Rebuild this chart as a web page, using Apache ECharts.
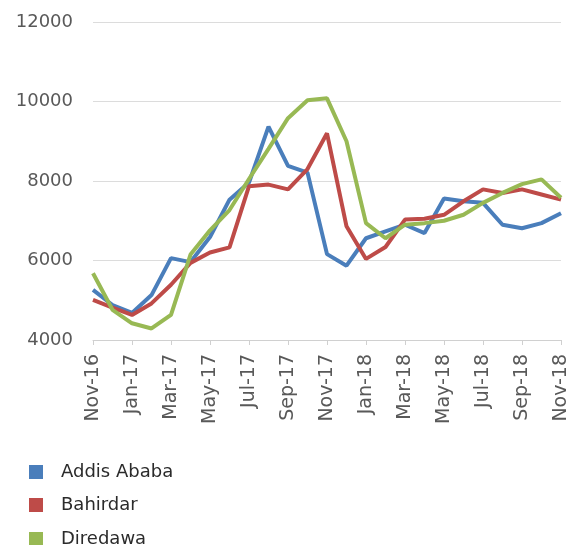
<!DOCTYPE html>
<html><head><meta charset="utf-8">
<script src="https://cdn.jsdelivr.net/npm/echarts@6/dist/echarts.min.js"></script>
<style>html,body{margin:0;padding:0;background:#fff}#c{width:579px;height:545px}</style>
</head><body><div id="c"></div>
<script>
var categories = ["Nov-16","Dec-16","Jan-17","Feb-17","Mar-17","Apr-17","May-17","Jun-17","Jul-17","Aug-17","Sep-17","Oct-17","Nov-17","Dec-17","Jan-18","Feb-18","Mar-18","Apr-18","May-18","Jun-18","Jul-18","Aug-18","Sep-18","Oct-18","Nov-18"];
var addisAbaba = [5260,4880,4680,5130,6060,5960,6590,7530,7960,9370,8380,8210,6160,5870,6560,6730,6900,6690,7560,7490,7450,6900,6810,6940,7190];
var bahirdar   = [5010,4815,4630,4920,5390,5940,6200,6330,7870,7910,7790,8300,9200,6860,6040,6340,7030,7050,7150,7490,7790,7700,7790,7660,7530];
var diredawa   = [5680,4760,4420,4290,4630,6150,6760,7270,8050,8810,9580,10030,10080,9000,6940,6560,6900,6940,7000,7150,7450,7700,7920,8040,7580];
var seriesNames = ["Addis Ababa","Bahirdar","Diredawa"];
var yTicks = [4000,6000,8000,10000,12000];

var chart = echarts.init(document.getElementById('c'));
var FONT = '"DejaVu Sans"';
function mk(name, data, color){
  return {name:name,type:'line',data:data,symbol:'none',smooth:false,
    lineStyle:{width:4,color:color},itemStyle:{color:color}};
}
var legendTops = [463,496,530];
var legends = seriesNames.map(function(n,i){
  return {orient:'vertical',left:29,top:legendTops[i],padding:0,itemWidth:14,itemHeight:14,
    icon:'rect',selectedMode:false,
    textStyle:{fontFamily:FONT,fontSize:18,lineHeight:14,color:'#2b2b2b',padding:[0,0,0,13]},
    data:[n]};
});
chart.setOption({
  animation:false,
  grid:{left:93,right:18,top:22,bottom:205},
  legend:legends,
  xAxis:{type:'category',data:categories,boundaryGap:false,
    axisLine:{lineStyle:{color:'#d0d0d0',width:1}},
    axisTick:{show:true,interval:1,length:5,lineStyle:{color:'#d0d0d0'}},
    axisLabel:{interval:1,rotate:90,margin:14,fontFamily:FONT,fontSize:19,color:'#595959'}},
  yAxis:{type:'value',min:yTicks[0],max:yTicks[yTicks.length-1],interval:2000,
    axisLine:{show:false},axisTick:{show:false},
    splitLine:{lineStyle:{color:'#dcdcdc',width:1}},
    axisLabel:{margin:20,fontFamily:FONT,fontSize:18,color:'#595959',formatter:function(v){return String(v);}}},
  series:[mk(seriesNames[0],addisAbaba,'#4A7EBB'),mk(seriesNames[1],bahirdar,'#BE4B48'),mk(seriesNames[2],diredawa,'#98B954')]
});
</script></body></html>
